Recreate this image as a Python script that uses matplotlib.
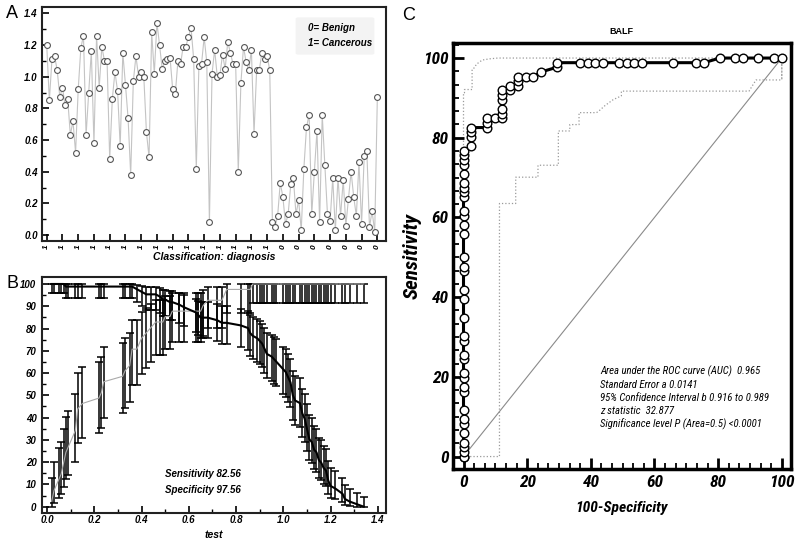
import math
import numpy as np
import matplotlib
matplotlib.use("Agg")
import matplotlib.pyplot as plt
from matplotlib.ticker import MultipleLocator
from matplotlib.patches import FancyBboxPatch
from matplotlib import font_manager as fm

plt.rcParams['font.family'] = ['Liberation Sans', 'DejaVu Sans']

# ---------------- data ----------------
cancerous = [1.20, 0.85, 1.11, 1.13, 1.04, 0.87, 0.93, 0.82, 0.86, 0.63, 0.72, 0.52,
             0.92, 1.18, 1.26, 0.63, 0.90, 1.16, 0.58, 1.26, 0.93, 1.19, 1.10, 1.10,
             0.48, 0.86, 1.03, 0.91, 0.56, 1.15, 0.95, 0.74, 0.38, 0.97, 1.13, 1.00,
             1.03, 1.00, 0.65, 0.49, 1.28, 1.02, 1.34, 1.20, 1.05, 1.10, 1.11, 1.12,
             0.92, 0.89, 1.10, 1.08, 1.19, 1.19, 1.25, 1.31, 1.11, 0.42, 1.07,
             1.08, 1.25, 1.09, 0.08, 1.02, 1.17, 1.00, 1.01, 1.14, 1.05, 1.22, 1.15,
             1.08, 1.08, 0.40, 0.96, 1.19, 1.09, 1.04, 1.17, 0.64, 1.04, 1.04, 1.15,
             1.11, 1.13, 1.04]
benign = [0.08, 0.05, 0.12, 0.33, 0.24, 0.07, 0.13, 0.32, 0.36, 0.13, 0.22, 0.03,
          0.42, 0.68, 0.76, 0.13, 0.40, 0.66, 0.08, 0.76, 0.44, 0.13, 0.09, 0.36,
          0.03, 0.36, 0.12, 0.35, 0.06, 0.23, 0.40, 0.24, 0.12, 0.46, 0.07, 0.50,
          0.53, 0.05, 0.15, 0.02, 0.87]

# ROC confidence band outlines
upper_x = [0, 0, 0.3, 0.3, 2.7, 2.7, 3.5, 4.0, 5.0, 5.9, 8.2, 10.8, 13.4, 100, 100]
upper_y = [0, 91.3, 91.3, 92.1, 92.1, 97.2, 97.6, 98.4, 99.0, 99.5, 99.8, 100, 100, 100, 94.5]
lower_x = [0, 11.3, 11.3, 16.4, 16.4, 23.4, 23.4, 29.8, 29.8, 33.4, 33.4, 36.3, 36.3,
           41.8, 42.8, 44.5, 47.1, 49.6, 49.6, 89.7, 91.9, 100, 100]
lower_y = [0, 0, 63.5, 63.5, 70.1, 70.1, 73.1, 73.1, 81.7, 81.7, 83.3, 83.3, 86.3,
           86.3, 86.9, 88.1, 89.6, 90.5, 91.7, 91.7, 94.5, 94.5, 100]

stats_lines = ["Area under the ROC curve (AUC)  0.965",
               "Standard Error a 0.0141",
               "95% Confidence Interval b 0.916 to 0.989",
               "z statistic  32.877",
               "Significance level P (Area=0.5) <0.0001"]

# ---------------- helpers ----------------
W, H = 800, 543
def fx(px): return px / W
def fy(py): return 1 - py / H


def find_condensed(want_italic, want_bold):
    prefs = ['liberation sans narrow', 'arial narrow', 'roboto condensed',
             'dejavu sans', 'noto sans', 'open sans']
    best, best_score = None, -1e9
    for f in fm.fontManager.ttflist:
        nm = f.name.lower()
        fn = f.fname.lower()
        cond = ('narrow' in nm or 'condensed' in nm or 'narrow' in fn or 'condensed' in fn
                or str(f.stretch) in ('condensed', 'semi-condensed', 'extra-condensed'))
        if not cond or 'mono' in nm or 'cjk' in nm or ('serif' in nm and 'sans' not in nm):
            continue
        if 'extra' in fn or 'ultra' in fn or 'semicondensed' in fn:
            continue
        it = f.style in ('italic', 'oblique')
        w = f.weight
        if isinstance(w, str):
            bd = 'bold' in w.lower()
        else:
            bd = w >= 600
        if 'light' in fn or 'thin' in fn or 'black' in fn or 'medium' in fn or 'semibold' in fn:
            continue
        score = 0
        score += 10 if it == want_italic else 0
        score += 10 if bd == want_bold else 0
        for i, p in enumerate(prefs):
            if nm.startswith(p):
                score += (len(prefs) - i)
                break
        if score > best_score:
            best, best_score = f.fname, score
    return best


def binom_cdf(k, n, p):
    return sum(math.comb(n, i) * p**i * (1 - p)**(n - i) for i in range(k + 1))


def cp_ci(k, n, alpha=0.05):
    if k == 0:
        lo = 0.0
    else:
        a, b = 0.0, 1.0
        for _ in range(50):
            m = (a + b) / 2
            if 1 - binom_cdf(k - 1, n, m) < alpha / 2:
                a = m
            else:
                b = m
        lo = (a + b) / 2
    if k == n:
        hi = 1.0
    else:
        a, b = 0.0, 1.0
        for _ in range(50):
            m = (a + b) / 2
            if binom_cdf(k, n, m) > alpha / 2:
                a = m
            else:
                b = m
        hi = (a + b) / 2
    return lo * 100, hi * 100


canc = np.array(cancerous)
ben = np.array(benign)
n1, n0 = len(canc), len(ben)
crit = np.unique(np.concatenate([canc, ben]))
k_sens = np.array([(canc > c).sum() for c in crit])
k_spec = np.array([(ben <= c).sum() for c in crit])
sens = 100 * k_sens / n1
spec = 100 * k_spec / n0
sens_ci = np.array([cp_ci(k, n1) for k in k_sens])
spec_ci = np.array([cp_ci(k, n0) for k in k_spec])

bi = dict(fontweight='bold', fontstyle='italic')

fig = plt.figure(figsize=(8, 5.43), dpi=100)

# ---------------- Panel A ----------------
axA = fig.add_axes([fx(42), fy(240.7), fx(386) - fx(42), fy(6.7) - fy(240.7)])
values = cancerous + benign
idx = np.arange(len(values))
axA.plot(idx, values, color='#c4c4c4', lw=0.8, zorder=1)
axA.plot(idx, values, 'o', ms=4.2, mfc='white', mec='#555555', mew=0.8, zorder=2)
axA.set_xlim(-1.8, 129.3)
axA.set_ylim(-0.036, 1.442)
xt = np.arange(0, len(values), 6)
axA.set_xticks(xt)
axA.set_xticklabels(['1' if t < n1 else '0' for t in xt], rotation=90,
                    fontsize=6, **bi)
axA.set_yticks(np.arange(0, 1.41, 0.2))
axA.set_yticklabels([f"{v:.1f}" for v in np.arange(0, 1.41, 0.2)], fontsize=7, **bi)
axA.yaxis.set_minor_locator(MultipleLocator(0.1))
axA.tick_params(direction='in', length=5, width=1.2, pad=3)
axA.tick_params(which='minor', direction='in', length=3, width=1.0)
for s in axA.spines.values():
    s.set_linewidth(1.5)
    s.set_color('#222222')
axA.set_xlabel("Classification: diagnosis", fontsize=7.5, labelpad=2, **bi)
box = FancyBboxPatch((fx(298), fy(53)), fx(372) - fx(298), fy(19) - fy(53),
                     boxstyle="round,pad=0.003", transform=fig.transFigure,
                     fc='#f3f3f3', ec='none', zorder=0)
fig.patches.append(box)
fig.text(fx(308), fy(28), "0= Benign", fontsize=7, va='center', **bi)
fig.text(fx(308), fy(43), "1= Cancerous", fontsize=7, va='center', **bi)

# ---------------- Panel B ----------------
axB = fig.add_axes([fx(42), fy(513.3), fx(386) - fx(42), fy(277.3) - fy(513.3)])
axB.errorbar(crit, spec, yerr=[spec - spec_ci[:, 0], spec_ci[:, 1] - spec],
             fmt='none', ecolor='black', elinewidth=1.1, capsize=3, capthick=1.1, zorder=2)
axB.errorbar(crit, sens, yerr=[sens - sens_ci[:, 0], sens_ci[:, 1] - sens],
             fmt='none', ecolor='black', elinewidth=1.1, capsize=3, capthick=1.1, zorder=2)
axB.plot(crit, spec, color='#aaaaaa', lw=0.8, zorder=3)
axB.plot(crit, sens, color='black', lw=1.5, zorder=3)
axB.set_xlim(-0.021, 1.434)
axB.set_ylim(-2.96, 103.0)
axB.set_xticks(np.arange(0, 1.41, 0.2))
axB.set_xticklabels([f"{v:.1f}" for v in np.arange(0, 1.41, 0.2)], fontsize=7, **bi)
axB.set_yticks(np.arange(0, 101, 10))
axB.set_yticklabels([str(v) for v in range(0, 101, 10)], fontsize=7, **bi)
axB.xaxis.set_minor_locator(MultipleLocator(0.1))
axB.yaxis.set_minor_locator(MultipleLocator(5))
axB.tick_params(direction='in', length=5, width=1.2, pad=4)
axB.tick_params(axis='x', pad=1.5)
axB.tick_params(which='minor', direction='in', length=3, width=1.0)
for s in axB.spines.values():
    s.set_linewidth(1.5)
    s.set_color('#222222')
axB.set_xlabel("test", fontsize=7.5, labelpad=3, **bi)
fig.text(fx(165), fy(474), "Sensitivity 82.56", fontsize=7, va='center', **bi)
fig.text(fx(165), fy(490), "Specificity 97.56", fontsize=7, va='center', **bi)

# ---------------- Panel C ----------------
axC = fig.add_axes([fx(453), fy(469.3), fx(790.7) - fx(453), fy(43.3) - fy(469.3)])
order = np.argsort(-crit)
roc_x = np.concatenate([[0], 100 - spec[order], [100]])
roc_y = np.concatenate([[0], sens[order], [100]])
axC.plot([0, 100], [0, 100], color='#8a8a8a', lw=0.8, zorder=1)
axC.plot(upper_x, upper_y, color='#9a9a9a', lw=0.9, ls=':', zorder=1)
axC.plot(lower_x, lower_y, color='#9a9a9a', lw=0.9, ls=':', zorder=1)
axC.plot(roc_x, roc_y, color='black', lw=2.2, zorder=2)
axC.plot(roc_x, roc_y, 'o', ms=6.2, mfc='white', mec='black', mew=1.0, zorder=3)
axC.set_xlim(-3.3, 102.8)
axC.set_ylim(-3.2, 103.7)

bold_cond = find_condensed(True, True)
ital_cond = find_condensed(True, False)
if bold_cond:
    lab_fp = dict(fontproperties=fm.FontProperties(fname=bold_cond, size=13))
    tick_fp = dict(fontproperties=fm.FontProperties(fname=bold_cond, size=12.5))
else:
    lab_fp = dict(fontsize=13, **bi)
    tick_fp = dict(fontsize=11, **bi)
if ital_cond:
    st_fp = dict(fontproperties=fm.FontProperties(fname=ital_cond, size=8.5))
else:
    st_fp = dict(fontsize=8.5, fontstyle='italic')

axC.set_xticks(np.arange(0, 101, 20))
axC.set_xticklabels([str(v) for v in range(0, 101, 20)], **tick_fp)
axC.set_yticks(np.arange(0, 101, 20))
axC.set_yticklabels([str(v) for v in range(0, 101, 20)], **tick_fp)
axC.xaxis.set_minor_locator(MultipleLocator(20 / 6))
axC.yaxis.set_minor_locator(MultipleLocator(20 / 6))
axC.tick_params(direction='in', length=8, width=2, pad=4)
axC.tick_params(axis='y', pad=3)
axC.tick_params(which='minor', direction='in', length=4.5, width=1.3)
for s in axC.spines.values():
    s.set_linewidth(2.5)

xl = axC.set_xlabel("100-Specificity", labelpad=8, **lab_fp)
yl = axC.set_ylabel("Sensitivity", labelpad=1, **lab_fp)
axC.set_title("BALF", fontsize=6.5, fontweight='bold', pad=7)
stats_txt = []
for i, line in enumerate(stats_lines):
    stats_txt.append(fig.text(fx(600), fy(371.7 + 13.2 * i), line, va='center', **st_fp))

# panel letters
fig.text(fx(6), fy(13), "A", fontsize=13, va='center')
fig.text(fx(6), fy(284), "B", fontsize=13, va='center')
fig.text(fx(402), fy(15), "C", fontsize=13, va='center')

# fit text widths to the reference lengths
fig.canvas.draw()
r = fig.canvas.get_renderer()
def fit(t, target):
    bb = t.get_window_extent(r)
    ln = max(bb.width, bb.height)
    t.set_fontsize(t.get_fontsize() * target / ln)
fit(xl, 92)
fit(yl, 86)
w_long = stats_txt[2].get_window_extent(r).width
scale = 168 / w_long
for t in stats_txt:
    t.set_fontsize(t.get_fontsize() * scale)

fig.savefig("out.png", dpi=100)
